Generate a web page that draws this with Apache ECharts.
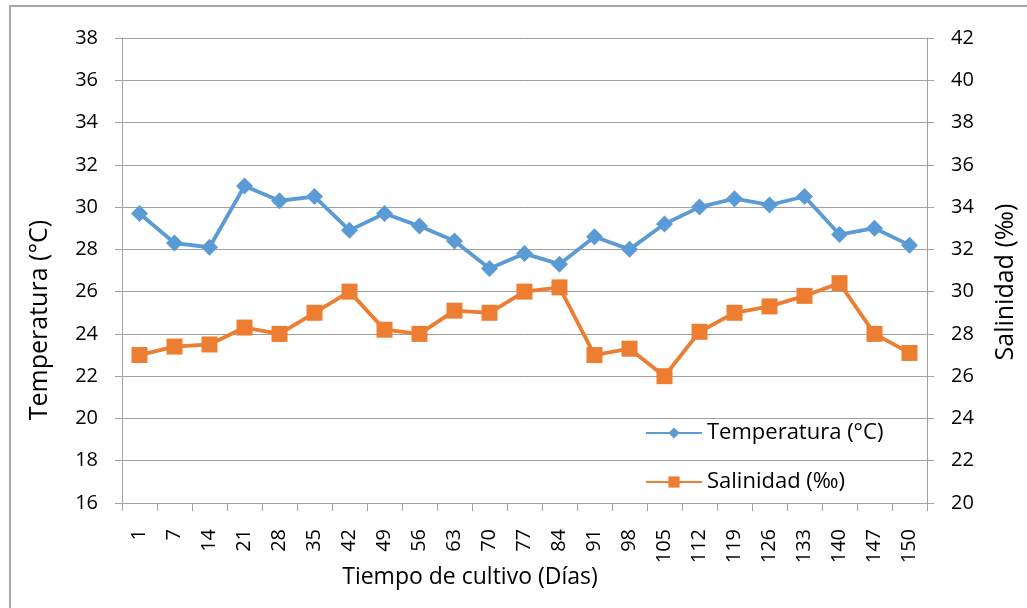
<!DOCTYPE html>
<html>
<head>
<meta charset="utf-8">
<script src="https://cdn.jsdelivr.net/npm/echarts@6/dist/echarts.min.js"></script>
<style>
  html, body { margin: 0; padding: 0; background: #fff; }
  #chart { width: 1027px; height: 608px; }
</style>
</head>
<body>
<div id="chart"></div>
<script>
// Culture days (x axis categories)
const dias = ['1','7','14','21','28','35','42','49','56','63','70','77','84','91','98','105','112','119','126','133','140','147','150'];
// Water temperature (°C), left axis
const temperatura = [29.7, 28.3, 28.1, 31.0, 30.3, 30.5, 28.9, 29.7, 29.1, 28.4, 27.1, 27.8, 27.3, 28.6, 28.0, 29.2, 30.0, 30.4, 30.1, 30.5, 28.7, 29.0, 28.2];
// Salinity (‰), right axis
const salinidad = [27.0, 27.4, 27.5, 28.3, 28.0, 29.0, 30.0, 28.2, 28.0, 29.1, 29.0, 30.0, 30.2, 27.0, 27.3, 26.0, 28.1, 29.0, 29.3, 29.8, 30.4, 28.0, 27.1];

const FONT = '"Open Sans", "Noto Sans", sans-serif';
const AXIS_GRAY = '#a0a0a0';

const chart = echarts.init(document.getElementById('chart'), null, { renderer: 'canvas' });

chart.setOption({
  animation: false,
  backgroundColor: '#ffffff',
  textStyle: { fontFamily: FONT },
  grid: { left: 122, right: 100, top: 38, bottom: 105, containLabel: false },
  legend: {
    orient: 'vertical',
    left: 645,
    top: 421,
    padding: 0,
    itemGap: 25,
    itemWidth: 56,
    itemHeight: 14,
    textStyle: { fontFamily: FONT, fontSize: 22, lineHeight: 24, color: '#000' },
    data: ['Temperatura (°C)', 'Salinidad (‰)']
  },
  xAxis: {
    type: 'category',
    data: dias,
    boundaryGap: true,
    axisLine: { lineStyle: { color: AXIS_GRAY, width: 1 } },
    axisTick: { show: true, interval: 0, length: 8, lineStyle: { color: AXIS_GRAY } },
    axisLabel: { interval: 0, rotate: 90, fontSize: 20, color: '#000', fontFamily: FONT, margin: 26 },
    splitLine: { show: false }
  },
  yAxis: [
    {
      type: 'value', min: 16, max: 38, interval: 2,
      axisLine: { show: true, lineStyle: { color: AXIS_GRAY } },
      axisTick: { show: true, length: 7, lineStyle: { color: AXIS_GRAY } },
      axisLabel: { fontSize: 20, color: '#000', fontFamily: FONT, margin: 24 },
      splitLine: { show: true, lineStyle: { color: AXIS_GRAY, width: 1 } }
    },
    {
      type: 'value', min: 20, max: 42, interval: 2,
      position: 'right',
      axisLine: { show: true, lineStyle: { color: AXIS_GRAY } },
      axisTick: { show: true, length: 7, lineStyle: { color: AXIS_GRAY } },
      axisLabel: { fontSize: 20, color: '#000', fontFamily: FONT, margin: 24 },
      splitLine: { show: false }
    }
  ],
  series: [
    {
      name: 'Temperatura (°C)',
      type: 'line',
      yAxisIndex: 0,
      data: temperatura,
      symbol: 'diamond',
      symbolSize: 17,
      lineStyle: { color: '#5B9BD5', width: 3.8 },
      itemStyle: { color: '#5B9BD5' }
    },
    {
      name: 'Salinidad (‰)',
      type: 'line',
      yAxisIndex: 1,
      data: salinidad,
      symbol: 'rect',
      symbolSize: 16,
      lineStyle: { color: '#ED7D31', width: 3.8 },
      itemStyle: { color: '#ED7D31' }
    }
  ],
  graphic: [
    {
      type: 'rect',
      shape: { x: 10, y: 6, width: 1100, height: 700 },
      style: { fill: 'none', stroke: '#a6a6a6', lineWidth: 2 },
      silent: true
    },
    {
      type: 'text',
      x: 470, y: 577,
      style: { text: 'Tiempo de cultivo (Días)', font: '23px ' + FONT, fill: '#000', align: 'center', verticalAlign: 'middle' }
    },
    {
      type: 'text',
      x: 40, y: 320, rotation: Math.PI / 2,
      style: { text: 'Temperatura (°C)', font: '25px ' + FONT, fill: '#000', align: 'center', verticalAlign: 'middle' }
    },
    {
      type: 'text',
      x: 1006, y: 282, rotation: Math.PI / 2,
      style: { text: 'Salinidad (‰)', font: '25px ' + FONT, fill: '#000', align: 'center', verticalAlign: 'middle' }
    }
  ]
});
</script>
</body>
</html>
